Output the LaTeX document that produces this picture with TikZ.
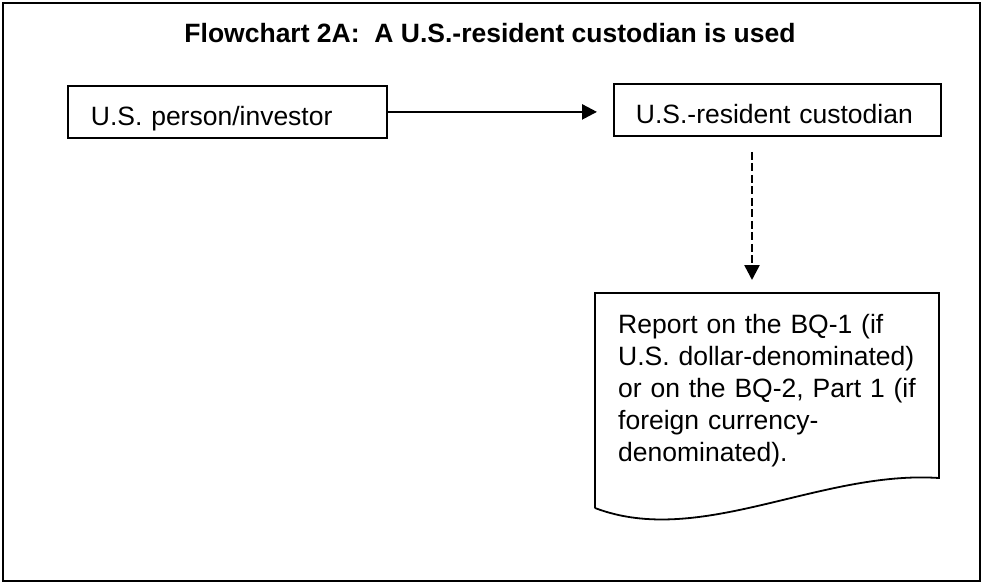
\documentclass[tikz,border=0pt]{standalone}
\usepackage{fontspec}
\setmainfont{Liberation Sans}
\usetikzlibrary{arrows.meta}
\begin{document}
\begin{tikzpicture}[x=1pt,y=-1pt,
  boxtxt/.style={font=\fontsize{26.5}{32}\selectfont},
  flowbox/.style={draw, line width=1.8pt, anchor=north west, align=left, inner ysep=0pt,
    minimum height=52pt, text height=40pt, text depth=12pt, boxtxt},
  conn/.style={line width=2.6pt, -{Triangle[length=15pt,width=15pt]}}]
\useasboundingbox (0,0) rectangle (983,584);
\draw[line width=2.6pt] (3,3) rectangle (980,581);
\node[font=\bfseries\fontsize{26.5}{32}\selectfont] (title) at (490,33) {Flowchart 2A:\ \ A U.S.-resident custodian is used};
\node[flowbox, text width=273pt, inner xsep=23pt] (box1) at (67,85) {U.S. person/investor};
\node[flowbox, text width=283pt, inner xsep=22pt] (box2) at (613,83) {U.S.-resident custodian};
\draw[conn, shorten >=16pt] (box1.east) -- (box1.east -| box2.west);
% document shape
\coordinate (doctop) at (752,293);
\draw[line width=1.8pt] (595,508) -- (595,293) -- (939,293) -- (939,478)
  .. controls (820,470) and (700,548) .. (595,508);
\node[boxtxt, anchor=base west, align=left, inner sep=0pt, text width=320pt] (doc) at (618,333)
  {Report on the BQ-1 (if\\U.S. dollar-denominated)\\or on the BQ-2, Part 1 (if\\foreign currency-\\denominated).};
\draw[conn, dash pattern=on 8pt off 3.5pt, shorten <=15pt, shorten >=13pt] (box2.south -| doctop) -- (doctop);
\end{tikzpicture}
\end{document}
